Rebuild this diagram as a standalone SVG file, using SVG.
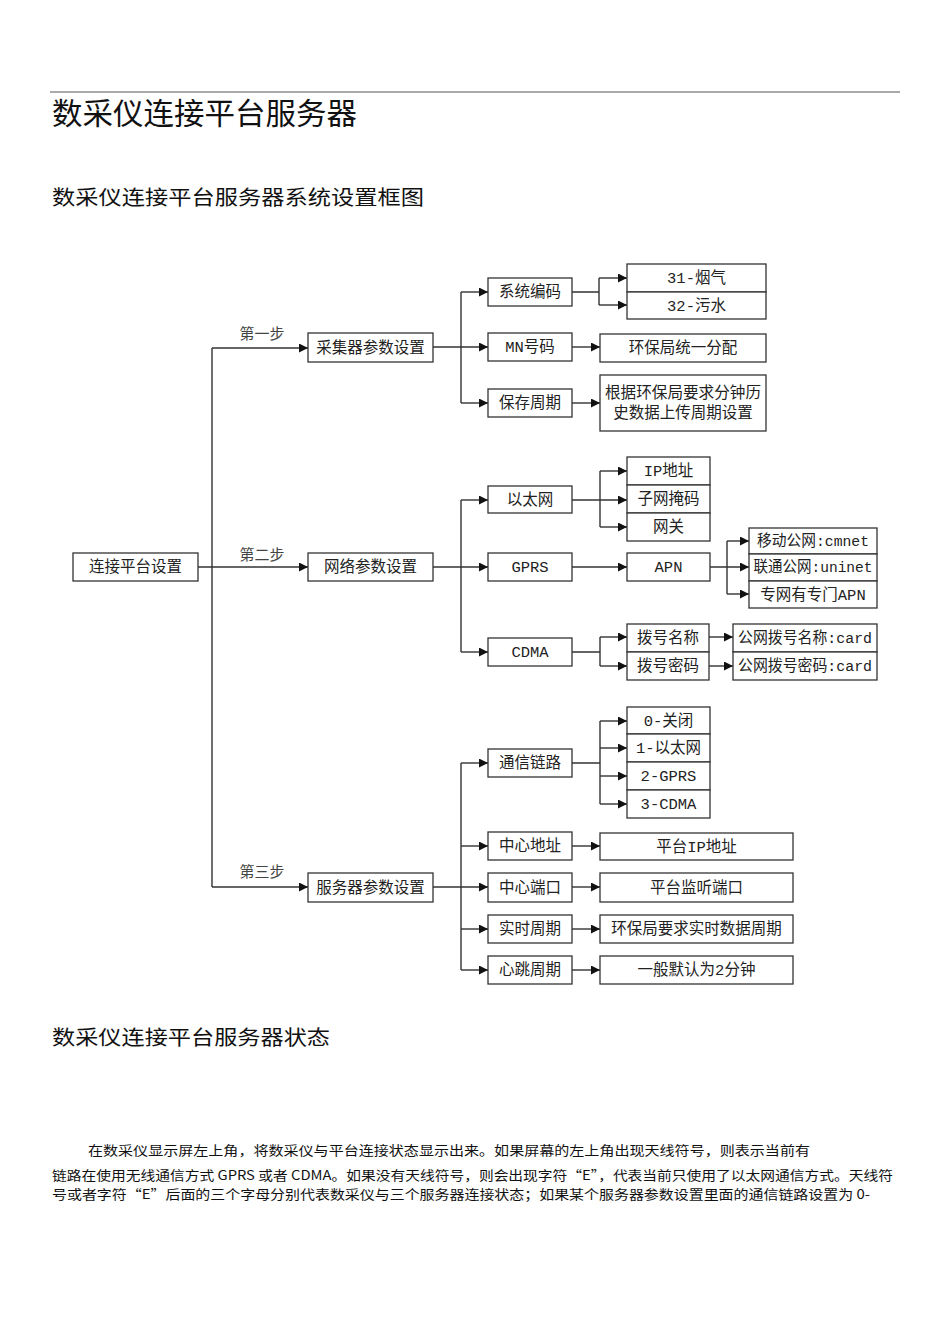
<svg xmlns="http://www.w3.org/2000/svg" width="950" height="1344" viewBox="0 0 950 1344">
<style>
.h{font-family:"Noto Sans CJK SC","Noto Sans",sans-serif;fill:#111}
.t{font-family:"Liberation Mono","Noto Sans CJK SC",monospace;font-size:15.5px;fill:#222;text-anchor:middle}
.lb{font-family:"Liberation Mono","Noto Sans CJK SC",monospace;font-size:15px;fill:#444;text-anchor:middle}
.b{fill:#fff;stroke:#333;stroke-width:1.3}
.c path{fill:none;stroke:#333;stroke-width:1.4}
.p{font-family:"Noto Sans CJK SC","Noto Sans",sans-serif;font-size:13px;fill:#111}
</style>
<defs>
<marker id="ar" viewBox="0 0 10 10" refX="10" refY="5" markerWidth="10" markerHeight="9" markerUnits="userSpaceOnUse" orient="auto">
<path d="M0,0 L10,5 L0,10 Z" fill="#111"/>
</marker>
</defs>
<rect width="950" height="1344" fill="#fff"/>
<line x1="50" y1="92" x2="900" y2="92" stroke="#555" stroke-width="1.2"/>
<text class="h" x="52" y="124" font-size="30" textLength="305" lengthAdjust="spacingAndGlyphs">数采仪连接平台服务器</text>
<text class="h" x="52" y="205" font-size="20" textLength="372" lengthAdjust="spacingAndGlyphs">数采仪连接平台服务器系统设置框图</text>

<g class="c" id="connectors">
<path d="M198,567 H308" marker-end="url(#ar)"/>
<path d="M212,348 V887"/>
<path d="M212,348 H308" marker-end="url(#ar)"/>
<path d="M212,887 H308" marker-end="url(#ar)"/>
<path d="M433,347 H488" marker-end="url(#ar)"/>
<path d="M461,292 V403"/>
<path d="M461,292 H488" marker-end="url(#ar)"/>
<path d="M461,403 H488" marker-end="url(#ar)"/>
<path d="M572,292 H599 M599,278 V305"/>
<path d="M599,278 H627" marker-end="url(#ar)"/>
<path d="M599,305 H627" marker-end="url(#ar)"/>
<path d="M572,347 H600" marker-end="url(#ar)"/>
<path d="M572,403 H600" marker-end="url(#ar)"/>
<path d="M433,567 H488" marker-end="url(#ar)"/>
<path d="M461,500 V652"/>
<path d="M461,500 H488" marker-end="url(#ar)"/>
<path d="M461,652 H488" marker-end="url(#ar)"/>
<path d="M572,500 H627" marker-end="url(#ar)"/>
<path d="M600,471 V527"/>
<path d="M600,471 H627" marker-end="url(#ar)"/>
<path d="M600,527 H627" marker-end="url(#ar)"/>
<path d="M572,567 H627" marker-end="url(#ar)"/>
<path d="M710,567 H749" marker-end="url(#ar)"/>
<path d="M727,541 V594"/>
<path d="M727,541 H749" marker-end="url(#ar)"/>
<path d="M727,594 H749" marker-end="url(#ar)"/>
<path d="M572,652 H600 M600,637 V666"/>
<path d="M600,637 H627" marker-end="url(#ar)"/>
<path d="M600,666 H627" marker-end="url(#ar)"/>
<path d="M709,637 H733" marker-end="url(#ar)"/>
<path d="M709,666 H733" marker-end="url(#ar)"/>
<path d="M433,887 H488" marker-end="url(#ar)"/>
<path d="M461,763 V970"/>
<path d="M461,763 H488" marker-end="url(#ar)"/>
<path d="M461,846 H488" marker-end="url(#ar)"/>
<path d="M461,929 H488" marker-end="url(#ar)"/>
<path d="M461,970 H488" marker-end="url(#ar)"/>
<path d="M572,763 H600 M600,721 V804"/>
<path d="M600,721 H627" marker-end="url(#ar)"/>
<path d="M600,748 H627" marker-end="url(#ar)"/>
<path d="M600,776 H627" marker-end="url(#ar)"/>
<path d="M600,804 H627" marker-end="url(#ar)"/>
<path d="M572,846 H600" marker-end="url(#ar)"/>
<path d="M572,887 H600" marker-end="url(#ar)"/>
<path d="M572,929 H600" marker-end="url(#ar)"/>
<path d="M572,970 H600" marker-end="url(#ar)"/>
</g>

<g id="step-labels">
<text class="lb" x="262" y="339">第一步</text>
<text class="lb" x="262" y="560">第二步</text>
<text class="lb" x="262" y="877">第三步</text>
</g>

<g id="n-root"><rect class="b" x="73" y="553" width="125" height="28"/><text class="t" x="135.5" y="572">连接平台设置</text></g>
<g id="n-cjq"><rect class="b" x="308" y="333" width="125" height="29"/><text class="t" x="370.5" y="353">采集器参数设置</text></g>
<g id="n-wl"><rect class="b" x="308" y="553" width="125" height="28"/><text class="t" x="370.5" y="572">网络参数设置</text></g>
<g id="n-fwq"><rect class="b" x="308" y="873" width="125" height="29"/><text class="t" x="370.5" y="893">服务器参数设置</text></g>

<g id="n-xtbm"><rect class="b" x="488" y="278" width="84" height="28"/><text class="t" x="530" y="297">系统编码</text></g>
<g id="n-mn"><rect class="b" x="488" y="333" width="84" height="28"/><text class="t" x="530" y="352">MN号码</text></g>
<g id="n-bczq"><rect class="b" x="488" y="389" width="84" height="28"/><text class="t" x="530" y="408">保存周期</text></g>
<g id="n-31"><rect class="b" x="627" y="264" width="139" height="28"/><text class="t" x="696.5" y="283">31-烟气</text></g>
<g id="n-32"><rect class="b" x="627" y="292" width="139" height="27"/><text class="t" x="696.5" y="311">32-污水</text></g>
<g id="n-hbj"><rect class="b" x="600" y="334" width="166" height="28"/><text class="t" x="683" y="353">环保局统一分配</text></g>
<g id="n-gj"><rect class="b" x="600" y="375" width="166" height="56"/><text class="t" x="683" y="398" textLength="156" lengthAdjust="spacingAndGlyphs">根据环保局要求分钟历</text><text class="t" x="683" y="418">史数据上传周期设置</text></g>

<g id="n-ytw"><rect class="b" x="488" y="486" width="84" height="27"/><text class="t" x="530" y="505">以太网</text></g>
<g id="n-gprs"><rect class="b" x="488" y="553" width="84" height="28"/><text class="t" x="530" y="572">GPRS</text></g>
<g id="n-cdma"><rect class="b" x="488" y="638" width="84" height="28"/><text class="t" x="530" y="657">CDMA</text></g>
<g id="n-ip"><rect class="b" x="627" y="457" width="83" height="28"/><text class="t" x="668.5" y="476">IP地址</text></g>
<g id="n-zw"><rect class="b" x="627" y="485" width="83" height="28"/><text class="t" x="668.5" y="504">子网掩码</text></g>
<g id="n-wg"><rect class="b" x="627" y="513" width="83" height="28"/><text class="t" x="668.5" y="532">网关</text></g>
<g id="n-apn"><rect class="b" x="627" y="553" width="83" height="28"/><text class="t" x="668.5" y="572">APN</text></g>
<g id="n-yd"><rect class="b" x="749" y="528" width="128" height="26"/><text class="t" x="813" y="546" textLength="112" lengthAdjust="spacingAndGlyphs">移动公网:cmnet</text></g>
<g id="n-lt"><rect class="b" x="749" y="554" width="128" height="27"/><text class="t" x="813" y="572" textLength="119" lengthAdjust="spacingAndGlyphs">联通公网:uninet</text></g>
<g id="n-zwapn"><rect class="b" x="749" y="581" width="128" height="27"/><text class="t" x="813" y="600">专网有专门APN</text></g>
<g id="n-bhmc"><rect class="b" x="627" y="624" width="82" height="28"/><text class="t" x="668" y="643">拨号名称</text></g>
<g id="n-bhmm"><rect class="b" x="627" y="652" width="82" height="28"/><text class="t" x="668" y="671">拨号密码</text></g>
<g id="n-card1"><rect class="b" x="733" y="624" width="144" height="28"/><text class="t" x="805" y="643" textLength="134" lengthAdjust="spacingAndGlyphs">公网拨号名称:card</text></g>
<g id="n-card2"><rect class="b" x="733" y="652" width="144" height="28"/><text class="t" x="805" y="671" textLength="134" lengthAdjust="spacingAndGlyphs">公网拨号密码:card</text></g>

<g id="n-txll"><rect class="b" x="488" y="749" width="84" height="28"/><text class="t" x="530" y="768">通信链路</text></g>
<g id="n-zxdz"><rect class="b" x="488" y="832" width="84" height="28"/><text class="t" x="530" y="851">中心地址</text></g>
<g id="n-zxdk"><rect class="b" x="488" y="873" width="84" height="29"/><text class="t" x="530" y="893">中心端口</text></g>
<g id="n-sszq"><rect class="b" x="488" y="915" width="84" height="28"/><text class="t" x="530" y="934">实时周期</text></g>
<g id="n-xtzq"><rect class="b" x="488" y="956" width="84" height="28"/><text class="t" x="530" y="975">心跳周期</text></g>
<g id="n-l0"><rect class="b" x="627" y="707" width="83" height="27"/><text class="t" x="668.5" y="726">0-关闭</text></g>
<g id="n-l1"><rect class="b" x="627" y="734" width="83" height="28"/><text class="t" x="668.5" y="753">1-以太网</text></g>
<g id="n-l2"><rect class="b" x="627" y="762" width="83" height="28"/><text class="t" x="668.5" y="781">2-GPRS</text></g>
<g id="n-l3"><rect class="b" x="627" y="790" width="83" height="28"/><text class="t" x="668.5" y="809">3-CDMA</text></g>
<g id="n-ptip"><rect class="b" x="600" y="833" width="193" height="27"/><text class="t" x="696.5" y="852">平台IP地址</text></g>
<g id="n-ptjt"><rect class="b" x="600" y="873" width="193" height="29"/><text class="t" x="696.5" y="893">平台监听端口</text></g>
<g id="n-hbjss"><rect class="b" x="600" y="915" width="193" height="28"/><text class="t" x="696.5" y="934">环保局要求实时数据周期</text></g>
<g id="n-ybmr"><rect class="b" x="600" y="956" width="193" height="28"/><text class="t" x="696.5" y="975">一般默认为2分钟</text></g>

<text class="h" x="52" y="1045" font-size="20" textLength="278" lengthAdjust="spacingAndGlyphs">数采仪连接平台服务器状态</text>
<text class="p" x="88" y="1155" font-size="14" textLength="722" lengthAdjust="spacingAndGlyphs">在数采仪显示屏左上角，将数采仪与平台连接状态显示出来。如果屏幕的左上角出现天线符号，则表示当前有</text>
<text class="p" x="52" y="1179.5" textLength="841" lengthAdjust="spacingAndGlyphs">链路在使用无线通信方式 GPRS 或者 CDMA。如果没有天线符号，则会出现字符“E”，代表当前只使用了以太网通信方式。天线符</text>
<text class="p" x="52" y="1199" textLength="818" lengthAdjust="spacingAndGlyphs">号或者字符“E”后面的三个字母分别代表数采仪与三个服务器连接状态；如果某个服务器参数设置里面的通信链路设置为 0-</text>
</svg>
